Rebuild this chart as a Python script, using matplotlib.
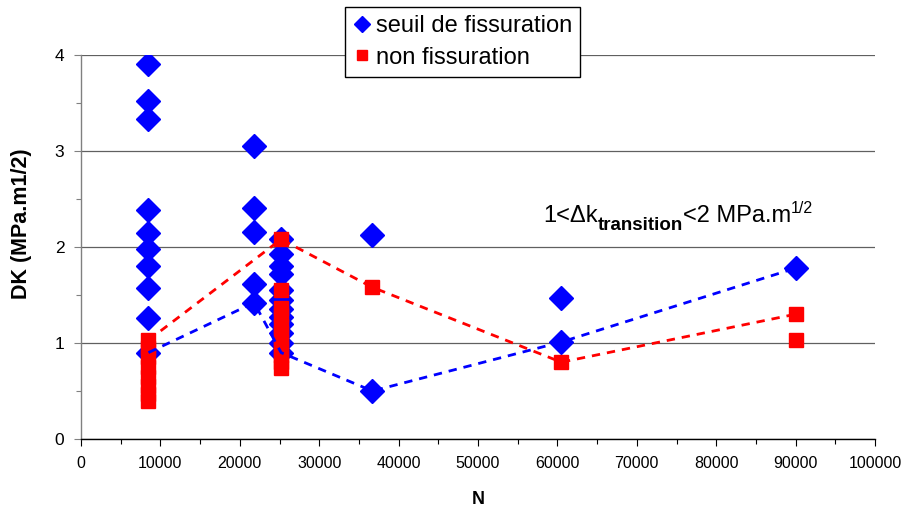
import matplotlib
matplotlib.use("Agg")
import matplotlib.pyplot as plt
from matplotlib.ticker import MultipleLocator
from matplotlib.transforms import IdentityTransform

plt.rcParams['font.family'] = ['Liberation Sans', 'DejaVu Sans']

# ---- data ----
seuil_N = ([8500] * 10 + [21800] * 5 + [25200] * 12 + [36700] * 2 + [60500] * 2 + [90000])
seuil_DK = [3.91, 3.52, 3.33, 2.39, 2.15, 1.98, 1.80, 1.57, 1.26, 0.90,
            3.05, 2.41, 2.16, 1.61, 1.42,
            2.08, 1.93, 1.80, 1.72, 1.55, 1.45, 1.35, 1.27, 1.20, 1.10, 1.00, 0.90,
            2.12, 0.50,
            1.47, 1.01,
            1.78]

non_N = ([8500] * 8 + [25200] * 11 + [36700] + [60500] + [90000] * 2)
non_DK = [1.03, 0.95, 0.85, 0.75, 0.65, 0.55, 0.47, 0.40,
          2.08, 1.55, 1.36, 1.29, 1.18, 1.10, 1.02, 0.95, 0.88, 0.80, 0.74,
          1.58,
          0.80,
          1.30, 1.03]

trend_seuil_N = [8500, 21800, 25200, 36700, 60500, 90000]
trend_seuil_DK = [0.90, 1.42, 0.90, 0.50, 1.01, 1.78]
trend_non_N = [8500, 25200, 36700, 60500, 90000]
trend_non_DK = [1.03, 2.08, 1.58, 0.80, 1.30]

x_ticks = [0, 10000, 20000, 30000, 40000, 50000, 60000, 70000, 80000, 90000, 100000]
y_ticks = [0, 1, 2, 3, 4]

W, H = 915, 518
fig = plt.figure(figsize=(W / 100, H / 100), dpi=100)
ax = fig.add_axes([81 / W, 1 - 439 / H, 794 / W, 384 / H])

ax.plot(seuil_N, seuil_DK, linestyle='none', marker='D', ms=12.5, color='#0000ff',
        mec='#0000ff', zorder=3, label='seuil de fissuration')
ax.plot(non_N, non_DK, linestyle='none', marker='s', ms=10, color='#ff0000',
        mec='#ff0000', zorder=4, label='non fissuration')
ax.plot(trend_seuil_N, trend_seuil_DK, color='#0000ff', lw=2, linestyle=(0, (3, 2.5)), zorder=5)
ax.plot(trend_non_N, trend_non_DK, color='#ff0000', lw=2, linestyle=(0, (3, 2.5)), zorder=5)

ax.set_xlim(0, 100000)
ax.set_ylim(0, 4)
ax.set_xticks(x_ticks)
ax.set_xticklabels([str(v) for v in x_ticks])
ax.set_yticks(y_ticks)
ax.set_yticklabels([str(v) for v in y_ticks])
ax.xaxis.set_minor_locator(MultipleLocator(5000))
ax.yaxis.set_minor_locator(MultipleLocator(0.5))
ax.tick_params(axis='both', which='major', direction='out', length=5, width=0.8,
               labelsize=11.5, colors='black')
ax.tick_params(axis='both', which='minor', direction='out', length=3.6, width=0.8)
ax.tick_params(axis='x', which='major', pad=7)
ax.tick_params(axis='y', which='major', pad=7, labelsize=12.5)
ax.tick_params(axis='y', which='both', color='#808080')

for s in ['top', 'right']:
    ax.spines[s].set_visible(False)
ax.spines['left'].set_color('#808080')
ax.spines['bottom'].set_color('black')
ax.spines['left'].set_linewidth(1)
ax.spines['bottom'].set_linewidth(1)

ax.yaxis.grid(True, color='#606060', lw=0.9)
ax.set_axisbelow(True)

ax.set_xlabel('N', fontsize=13, fontweight='bold', labelpad=15)
ax.set_ylabel('DK (MPa.m1/2)', fontsize=15.5, fontweight='bold')
ax.yaxis.set_label_coords(-0.062, 0.56)

leg = fig.legend(loc='upper left', bbox_to_anchor=(345 / W, 1 - 7 / H), borderaxespad=0,
                 fontsize=17, frameon=True, fancybox=False, edgecolor='black',
                 framealpha=1, borderpad=0.35, handlelength=0.7, handletextpad=0.25,
                 labelspacing=0.4, numpoints=1)
leg.get_frame().set_linewidth(1)
for h, size in zip(leg.legend_handles, [8.5, 7.2]):
    h.set_markersize(size)

# annotation text built piece by piece
fig.canvas.draw()
renderer = fig.canvas.get_renderer()
x0, y0 = ax.transData.transform((58200, 2.26))
pieces = [("1<\u0394k", 17, 'normal', 0),
          ("transition", 13.5, 'bold', -8),
          ("<2 MPa.m", 17, 'normal', 0),
          ("1/2", 11.5, 'normal', 9)]
cur = x0
for s, size, weight, dy in pieces:
    t = fig.text(cur, y0 + dy, s, fontsize=size, fontweight=weight,
                 transform=IdentityTransform(), ha='left', va='baseline')
    cur += t.get_window_extent(renderer).width

fig.savefig('out.png', dpi=100)
